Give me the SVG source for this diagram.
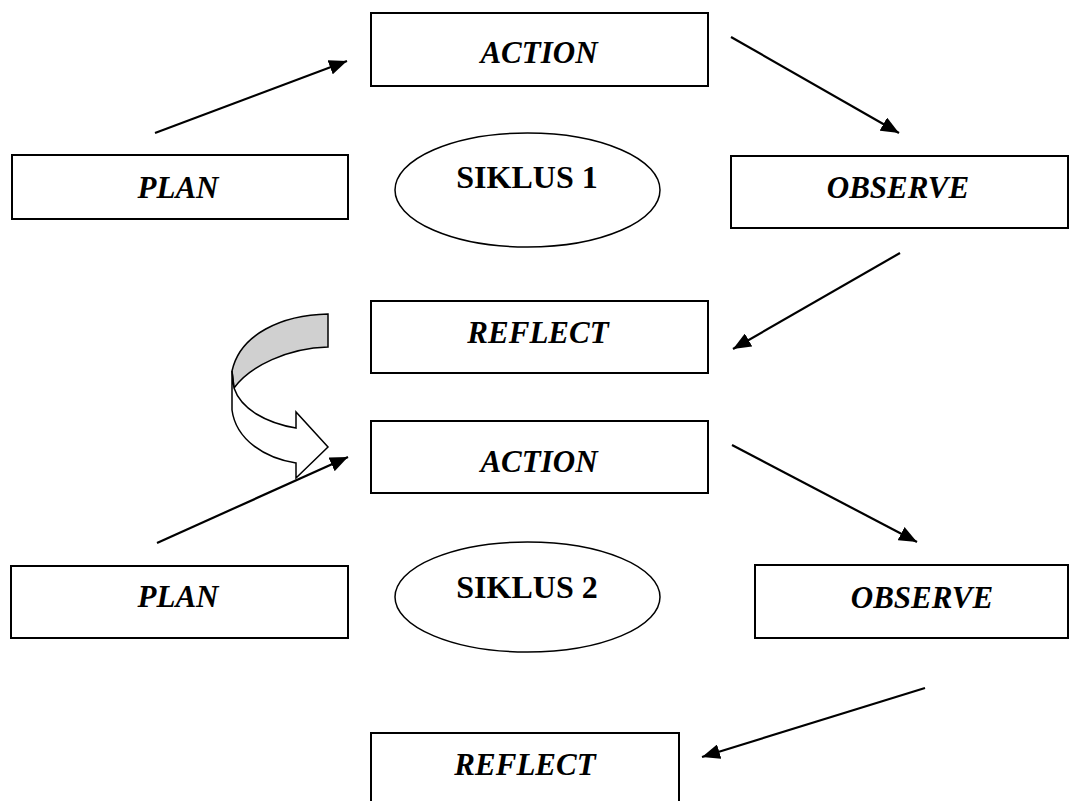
<svg xmlns="http://www.w3.org/2000/svg" width="1081" height="801" viewBox="0 0 1081 801">
<defs>
<marker id="ah" viewBox="0 0 18 15" refX="18" refY="7.5" markerWidth="18" markerHeight="15" markerUnits="userSpaceOnUse" orient="auto">
<path d="M0,0 L18,7.5 L0,15 Z" fill="#000"/>
</marker>
</defs>
<style>
.box{fill:#fff;stroke:#000;stroke-width:2}
.ell{fill:#fff;stroke:#000;stroke-width:1.5}
.lbl{font-family:"Liberation Serif","Times New Roman",serif;font-weight:bold;font-style:italic;font-size:31px;text-anchor:middle;fill:#000}
.cyc{font-family:"Liberation Serif","Times New Roman",serif;font-weight:bold;font-size:32px;text-anchor:middle;fill:#000}
.con{stroke:#000;stroke-width:2.2;fill:none;marker-end:url(#ah)}
</style>
<rect width="1081" height="801" fill="#fff"/>
<g id="action1"><rect class="box" x="371" y="13" width="337" height="73"/><text class="lbl" x="539" y="63">ACTION</text></g>
<g id="plan1"><rect class="box" x="12" y="155" width="336" height="64"/><text class="lbl" x="178" y="198">PLAN</text></g>
<g id="siklus1"><ellipse class="ell" cx="527.5" cy="190" rx="132.5" ry="57"/><text class="cyc" x="527" y="188">SIKLUS 1</text></g>
<g id="observe1"><rect class="box" x="731" y="156" width="337" height="72"/><text class="lbl" x="898" y="198">OBSERVE</text></g>
<g id="reflect1"><rect class="box" x="371" y="301" width="337" height="72"/><text class="lbl" x="538" y="343">REFLECT</text></g>
<g id="action2"><rect class="box" x="371" y="421" width="337" height="72"/><text class="lbl" x="539" y="472">ACTION</text></g>
<g id="plan2"><rect class="box" x="11" y="566" width="337" height="72"/><text class="lbl" x="178" y="607">PLAN</text></g>
<g id="siklus2"><ellipse class="ell" cx="527.5" cy="597" rx="132.5" ry="55"/><text class="cyc" x="527" y="598">SIKLUS 2</text></g>
<g id="observe2"><rect class="box" x="755" y="565" width="313" height="73"/><text class="lbl" x="922" y="608">OBSERVE</text></g>
<g id="reflect2"><rect class="box" x="371" y="733" width="308" height="80"/><text class="lbl" x="525" y="775">REFLECT</text></g>
<g id="curved-arrow" stroke="#000" stroke-width="1.5" stroke-linejoin="miter">
<path d="M328,314 C282,315 240,334 232,371 L234,388 C250,366 288,348 328,347 Z" fill="#d0d0d0"/>
<path d="M232,371 L232,410 C236,440 265,458 296,463 L296,478 L328,447 L296,412 L296,428 C266,423 241,409 234,388 Z" fill="#fff"/>
</g>
<g id="connectors">
<line class="con" x1="155" y1="133" x2="347" y2="61"/>
<line class="con" x1="731" y1="37" x2="899" y2="133"/>
<line class="con" x1="900" y1="253" x2="733" y2="349"/>
<line class="con" x1="157" y1="543" x2="348" y2="457"/>
<line class="con" x1="732" y1="445" x2="917" y2="542"/>
<line class="con" x1="925" y1="688" x2="702" y2="757"/>
</g>
</svg>
